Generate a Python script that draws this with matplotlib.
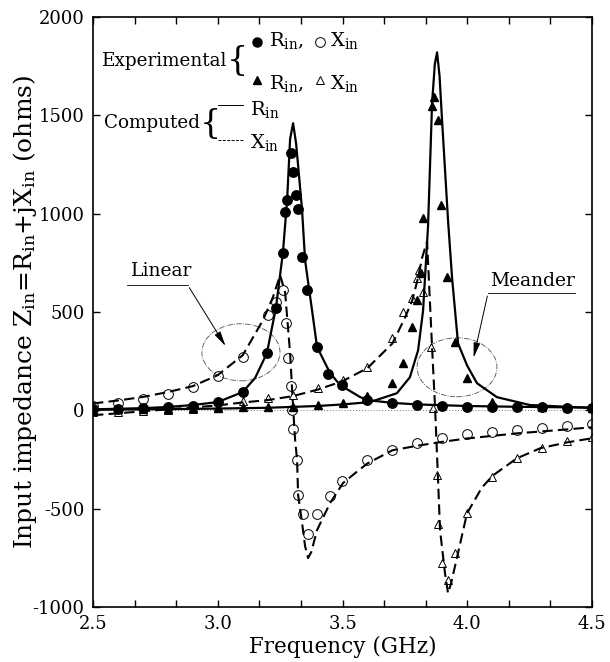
import matplotlib
matplotlib.use("Agg")
import matplotlib.pyplot as plt
from matplotlib.patches import Ellipse
from matplotlib.ticker import MultipleLocator

plt.rcParams["font.family"] = ["DejaVu Serif"]
plt.rcParams["mathtext.fontset"] = "dejavuserif"
plt.rcParams["axes.unicode_minus"] = False

# ---- computed curves ----
lin_R_calc_f = [2.5, 2.6, 2.7, 2.8, 2.9, 3.0, 3.1, 3.15, 3.197, 3.233, 3.261, 3.278, 3.29, 3.302,
                3.314, 3.326, 3.338, 3.35, 3.378, 3.398, 3.45, 3.49, 3.57, 3.6, 3.7, 3.8, 4.0, 4.2, 4.5]
lin_R_calc = [5, 8, 11, 17, 27, 42, 93, 165, 291, 520, 800, 1068, 1380, 1460,
              1357, 1190, 1017, 763, 508, 322, 190, 129, 68, 52, 38, 30, 22, 18, 14]

lin_X_calc_f = [2.5, 2.6, 2.7, 2.8, 2.9, 3.0, 3.1, 3.181, 3.221, 3.25, 3.27, 3.29, 3.302, 3.31, 3.318,
                3.322, 3.338, 3.35, 3.362, 3.375, 3.398, 3.45, 3.502, 3.55, 3.6, 3.7, 3.8, 3.9, 4.0,
                4.2, 4.4, 4.5]
lin_X_calc = [35, 50, 68, 93, 123, 179, 280, 458, 575, 687, 600, 290, 15, -151, -252,
              -430, -573, -690, -751, -720, -609, -472, -370, -320, -270, -203, -180, -160, -143,
              -117, -97, -86]

mea_R_calc_f = [2.5, 2.8, 3.0, 3.2, 3.4, 3.5, 3.61, 3.718, 3.77, 3.803, 3.823, 3.843, 3.859, 3.87,
                3.879, 3.889, 3.899, 3.923, 3.939, 3.963, 3.999, 4.039, 4.119, 4.251, 4.5]
mea_R_calc = [3, 6, 9, 13, 22, 30, 42, 87, 168, 305, 508, 941, 1562, 1760,
              1820, 1700, 1475, 966, 676, 341, 229, 138, 67, 27, 12]

mea_X_calc_f = [2.5, 2.6, 2.7, 2.8, 2.9, 3.0, 3.1, 3.2, 3.3, 3.4, 3.5, 3.6, 3.7, 3.75, 3.78, 3.8,
                3.82, 3.839, 3.859, 3.871, 3.883, 3.891, 3.911, 3.923, 3.935, 3.959, 3.999, 4.059,
                4.103, 4.199, 4.292, 4.4, 4.5]
mea_X_calc = [-25, -15, -5, 5, 15, 25, 40, 52, 72, 105, 148, 215, 340, 470, 560, 660,
              780, 859, 320, 15, -356, -610, -830, -930, -880, -748, -524, -392,
              -331, -244, -193, -163, -142]

# ---- experimental points ----
lin_R_exp_f = [2.5, 2.6, 2.7, 2.8, 2.9, 3.0, 3.1, 3.197, 3.233, 3.261, 3.27, 3.278, 3.294, 3.302,
               3.314, 3.322, 3.338, 3.358, 3.398, 3.442, 3.498, 3.6, 3.7, 3.8, 3.9, 4.0, 4.1, 4.2,
               4.3, 4.4, 4.5]
lin_R_exp = [5, 8, 10, 15, 20, 40, 92, 290, 519, 798, 1007, 1068, 1307, 1210,
             1093, 1022, 778, 610, 320, 183, 127, 52, 36, 26, 22, 17, 17, 17,
             17, 12, 12]

lin_X_exp_f = [2.5, 2.6, 2.7, 2.8, 2.9, 3.0, 3.1, 3.2, 3.233, 3.261, 3.273, 3.28, 3.294, 3.296, 3.3,
               3.316, 3.322, 3.342, 3.362, 3.398, 3.45, 3.498, 3.6, 3.7, 3.8, 3.9, 4.0, 4.1, 4.2,
               4.3, 4.4, 4.5]
lin_X_exp = [20, 36, 56, 81, 117, 173, 270, 483, 549, 610, 442, 264, 122, 0, -97,
             -250, -432, -529, -631, -529, -437, -358, -254, -203, -168, -143, -122, -112, -102,
             -92, -81, -71]

mea_R_exp_f = [2.5, 2.6, 2.7, 2.8, 2.9, 3.0, 3.1, 3.2, 3.3, 3.4, 3.5, 3.6, 3.698, 3.743, 3.779,
               3.799, 3.815, 3.823, 3.859, 3.867, 3.883, 3.895, 3.919, 3.951, 3.999, 4.1, 4.2, 4.3,
               4.4, 4.5]
mea_R_exp = [3, 5, 7, 8, 10, 12, 15, 15, 17, 25, 36, 75, 137, 239, 425,
             562, 700, 976, 1550, 1591, 1474, 1042, 676, 346, 163, 42, 25, 18,
             15, 12]

mea_X_exp_f = [2.5, 2.6, 2.7, 2.8, 2.9, 3.0, 3.1, 3.2, 3.3, 3.4, 3.5, 3.6, 3.698, 3.743, 3.779,
               3.799, 3.807, 3.823, 3.855, 3.863, 3.879, 3.883, 3.899, 3.923, 3.951, 3.999, 4.099,
               4.199, 4.3, 4.4, 4.5]
mea_X_exp = [-10, -8, -3, 0, 5, 15, 45, 61, 76, 112, 153, 219, 366, 498, 569,
             671, 712, 600, 320, 10, -330, -580, -778, -864, -727, -524, -341,
             -244, -193, -158, -137]

fig = plt.figure(figsize=(6.1, 6.62), dpi=100)
ax = fig.add_axes([93 / 610, 55 / 662, 499 / 610, 590 / 662])

dash = (0, (5, 2.5))
ax.axhline(0, color="0.45", lw=0.7, ls=(0, (1, 2)), zorder=1)

# computed
ax.plot(lin_R_calc_f, lin_R_calc, color="black", lw=1.6, zorder=2)
ax.plot(mea_R_calc_f, mea_R_calc, color="black", lw=1.6, zorder=2)
ax.plot(lin_X_calc_f, lin_X_calc, color="black", lw=1.5, ls=dash, zorder=2)
ax.plot(mea_X_calc_f, mea_X_calc, color="black", lw=1.5, ls=dash, zorder=2)

# experimental
ax.plot(lin_R_exp_f, lin_R_exp, "o", color="black", ms=6.8, zorder=3)
ax.plot(lin_X_exp_f, lin_X_exp, "o", mfc="none", mec="black", mew=0.7, ms=7, zorder=3)
ax.plot(mea_R_exp_f, mea_R_exp, "^", color="black", ms=5.5, zorder=3)
ax.plot(mea_X_exp_f, mea_X_exp, "^", mfc="none", mec="black", mew=0.7, ms=6, zorder=3)

# ellipses and labels
ax.add_patch(Ellipse((3.093, 295), 0.313, 290, fill=False, ls="-.", lw=0.6, ec="0.3"))
ax.add_patch(Ellipse((3.959, 219), 0.32, 300, fill=False, ls="-.", lw=0.6, ec="0.3"))

ax.text(2.776, 707, "Linear", fontsize=13.5, ha="center", va="center")
ax.plot([2.636, 2.88], [636, 636], color="black", lw=0.6)
ax.annotate("", xy=(3.037, 315), xytext=(2.88, 636),
            arrowprops=dict(arrowstyle="-|>,head_length=0.9,head_width=0.2", color="black", lw=0.7))

ax.text(4.26, 656, "Meander", fontsize=13.5, ha="center", va="center")
ax.plot([4.083, 4.432], [595, 595], color="black", lw=0.6)
ax.annotate("", xy=(4.023, 254), xytext=(4.083, 595),
            arrowprops=dict(arrowstyle="-|>,head_length=0.9,head_width=0.2", color="black", lw=0.7))

# legend drawn by hand
rin = r"$\mathrm{R}_{\mathrm{in}}$"
xin = r"$\mathrm{X}_{\mathrm{in}}$"
ax.text(2.789, 1774, "Experimental", fontsize=13.2, ha="center", va="center")
ax.text(3.077, 1774, "{", fontsize=24, ha="center", va="center")
ax.plot([3.157], [1871], "o", color="black", ms=6.5)
ax.text(3.205, 1881, rin + ",", fontsize=14, va="center")
ax.plot([3.41], [1871], "o", mfc="none", mec="black", mew=0.7, ms=7)
ax.text(3.45, 1881, xin, fontsize=14, va="center")
ax.plot([3.157], [1678], "^", color="black", ms=5.5)
ax.text(3.205, 1660, rin + ",", fontsize=14, va="center")
ax.plot([3.41], [1678], "^", mfc="none", mec="black", mew=0.7, ms=6)
ax.text(3.45, 1660, xin, fontsize=14, va="center")

ax.text(2.737, 1459, "Computed", fontsize=13.2, ha="center", va="center")
ax.text(2.969, 1455, "{", fontsize=24, ha="center", va="center")
ax.plot([3.0, 3.1], [1551, 1551], color="black", lw=0.7)
ax.text(3.129, 1530, rin, fontsize=14, va="center")
ax.plot([3.0, 3.1], [1373, 1373], color="black", lw=0.7, ls=(0, (3, 1.5)))
ax.text(3.129, 1360, xin, fontsize=14, va="center")

# axes
ax.set_xlim(2.5, 4.5)
ax.set_ylim(-1000, 2000)
ax.xaxis.set_major_locator(MultipleLocator(0.5))
ax.xaxis.set_minor_locator(MultipleLocator(0.5 / 3))
ax.yaxis.set_major_locator(MultipleLocator(500))
ax.set_xticks([2.5, 3.0, 3.5, 4.0, 4.5], ["2.5", "3.0", "3.5", "4.0", "4.5"])
ax.tick_params(which="both", direction="in", top=True, right=True, labelsize=13, width=1)
ax.tick_params(which="major", length=5, pad=6)
ax.tick_params(which="minor", length=5)
for s in ax.spines.values():
    s.set_linewidth(1.2)

ax.set_xlabel("Frequency (GHz)", fontsize=15.5, labelpad=2)
ax.set_ylabel(r"Input impedance $\mathrm{Z}_{\mathrm{in}}$=$\mathrm{R}_{\mathrm{in}}$+j$\mathrm{X}_{\mathrm{in}}$ (ohms)",
              fontsize=18)
ax.yaxis.set_label_coords(-0.108, 0.5)

fig.savefig("out.png", dpi=100)
